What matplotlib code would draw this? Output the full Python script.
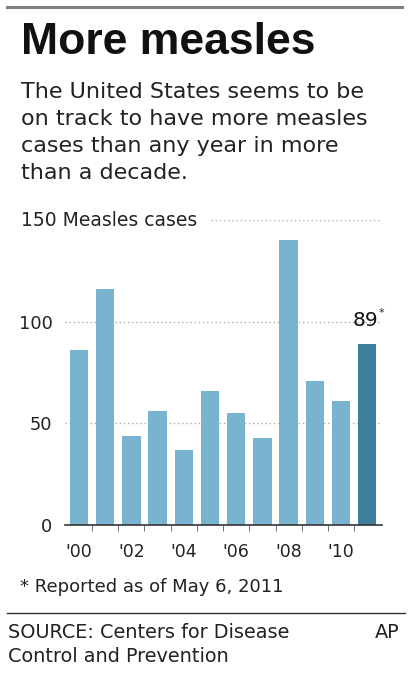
import matplotlib.pyplot as plt

years = ["'00", "'01", "'02", "'03", "'04", "'05", "'06", "'07", "'08", "'09", "'10", "'11"]
cases = [86, 116, 44, 56, 37, 66, 55, 43, 140, 71, 61, 89]
yticks = [0, 50, 100, 150]

plt.rcParams["font.family"] = ["DejaVu Sans"]

W, H = 409, 675
fig = plt.figure(figsize=(W / 100, H / 100), dpi=100)

def fx(px):
    return px / W

def fy(py):
    return 1 - py / H

# top rule and bottom rule
fig.add_artist(plt.Line2D([fx(7), fx(402)], [fy(7), fy(7)], color="#808080", lw=2.2))
fig.add_artist(plt.Line2D([fx(7), fx(405)], [fy(613), fy(613)], color="#333333", lw=1))

fig.text(fx(21), fy(43), "More measles", fontsize=32, fontweight="bold",
         family="Liberation Sans", va="center", ha="left", color="#111111")
subtitle = ["The United States seems to be", "on track to have more measles",
            "cases than any year in more", "than a decade."]
for i, line in enumerate(subtitle):
    fig.text(fx(21), fy(92 + 27 * i), line, fontsize=16, va="center", ha="left", color="#222222")

ax = fig.add_axes([fx(65), fy(525), fx(382) - fx(65), fy(220) - fy(525)])
x = list(range(len(cases)))
colors = ["#78b3cf"] * (len(cases) - 1) + ["#3d7e9a"]
ax.bar(x, cases, width=0.7, color=colors, zorder=2)
ax.set_ylim(0, 150)
ax.set_xlim(-0.53, 11.56)

for v in yticks[1:]:
    xmin = 0 if v < 150 else (211 - 65) / (382 - 65)
    ax.axhline(v, xmin=xmin, color="#aaaaaa", lw=1, ls=(0, (1, 2)), zorder=1)

for s in ["top", "right", "left"]:
    ax.spines[s].set_visible(False)
ax.spines["bottom"].set_color("#333333")
ax.spines["bottom"].set_linewidth(1.2)

ax.set_yticks(yticks[:-1])
ax.set_yticklabels([str(v) for v in yticks[:-1]])
ax.tick_params(axis="y", length=0, pad=9, labelsize=12.8, labelcolor="#222222")
ax.set_xticks(x[::2])
ax.set_xticklabels(years[::2])
ax.set_xticks([i + 0.5 for i in x[:-1]], minor=True)
ax.tick_params(axis="x", which="major", length=0, pad=13, labelsize=12.5, labelcolor="#222222")
ax.tick_params(axis="x", which="minor", length=4, color="#555555")

fig.text(fx(21), fy(220), "150 Measles cases", fontsize=13.5, va="center", ha="left", color="#222222")
ax.annotate(f"{cases[-1]}", (x[-1], cases[-1]), xytext=(-1, 10), textcoords="offset points",
            ha="center", va="bottom", fontsize=14.5, fontweight="medium", color="#111111")
ax.annotate("*", (x[-1], cases[-1]), xytext=(8, 19), textcoords="offset points",
            ha="left", va="bottom", fontsize=8, color="#222222")

fig.text(fx(20), fy(587), "* Reported as of May 6, 2011", fontsize=13, va="center", ha="left", color="#222222")
fig.text(fx(8), fy(632), "SOURCE: Centers for Disease", fontsize=13.9, va="center", ha="left", color="#222222")
fig.text(fx(8), fy(657), "Control and Prevention", fontsize=13.9, va="center", ha="left", color="#222222")
fig.text(fx(399), fy(632), "AP", fontsize=13.9, va="center", ha="right", color="#222222")

fig.savefig("out.png", dpi=100, facecolor="white")
